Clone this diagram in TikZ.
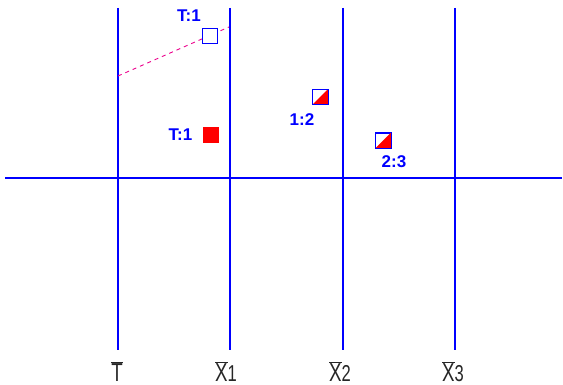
\documentclass[tikz,border=0pt]{standalone}
\usepackage{fontspec}
\setmainfont{Liberation Sans}
\newcommand\barred[1]{\ensuremath{\overline{\mbox{#1}}}}
\begin{document}
\begin{tikzpicture}[x=1pt,y=-1pt,
  axis/.style={draw=blue,line width=1.1pt},
  lbl/.style={text=blue,font=\fontsize{17}{17}\selectfont\bfseries,inner sep=0pt},
  axlbl/.style={text=black!85,font=\fontsize{26}{26}\selectfont,inner sep=0pt,anchor=base,xscale=0.72},
  sq/.style={minimum size=15pt,inner sep=0pt,draw=blue,line width=0.9pt}]
\useasboundingbox (0,0) rectangle (563,385);
% axes
\coordinate (t0) at (118,8); \coordinate (t1) at (118,350);
\coordinate (a0) at (230,8); \coordinate (a1) at (230,350);
\coordinate (b0) at (343,8); \coordinate (b1) at (343,350);
\coordinate (c0) at (455,8); \coordinate (c1) at (455,350);
\coordinate (h0) at (5,178); \coordinate (h1) at (562,178);
\draw[axis] (t0)--(t1); \draw[axis] (a0)--(a1);
\draw[axis] (b0)--(b1); \draw[axis] (c0)--(c1);
\draw[axis] (h0)--(h1);
% dashed line
\coordinate (d0) at (118,76); \coordinate (d1) at (229,27);
\draw[magenta,line width=0.9pt,dash pattern=on 4pt off 4pt] (d0)--(d1);
% squares
\node[sq,fill=white] (s1) at (210,36) {};
\node[sq,fill=red,draw=red] (s2) at (211,135) {};
\node[sq] (s3) at (320,97) {};
\fill[red] (s3.south west)--(s3.north east)--(s3.south east)--cycle;
\draw[blue,line width=0.9pt] (s3.south west) rectangle (s3.north east);
\node[sq] (s4) at (383,140.5) {};
\fill[red] (s4.south west)--(s4.north east)--(s4.south east)--cycle;
\draw[blue,line width=0.9pt] (s4.south west) rectangle (s4.north east);
% labels
\node[lbl] (l1) at (189,16) {T:1};
\node[lbl] (l2) at (180.5,134.5) {T:1};
\node[lbl] (l3) at (302,120) {1:2};
\node[lbl] (l4) at (394,162) {2:3};
% axis labels
\node[axlbl] (x0) at (117,381) {\barred{T}};
\node[axlbl] (x1) at (226,381) {\barred{X}{\fontsize{23}{23}\selectfont 1}};
\node[axlbl] (x2) at (340,381) {\barred{X}{\fontsize{23}{23}\selectfont 2}};
\node[axlbl] (x3) at (453,381) {\barred{X}{\fontsize{23}{23}\selectfont 3}};
\end{tikzpicture}
\end{document}
